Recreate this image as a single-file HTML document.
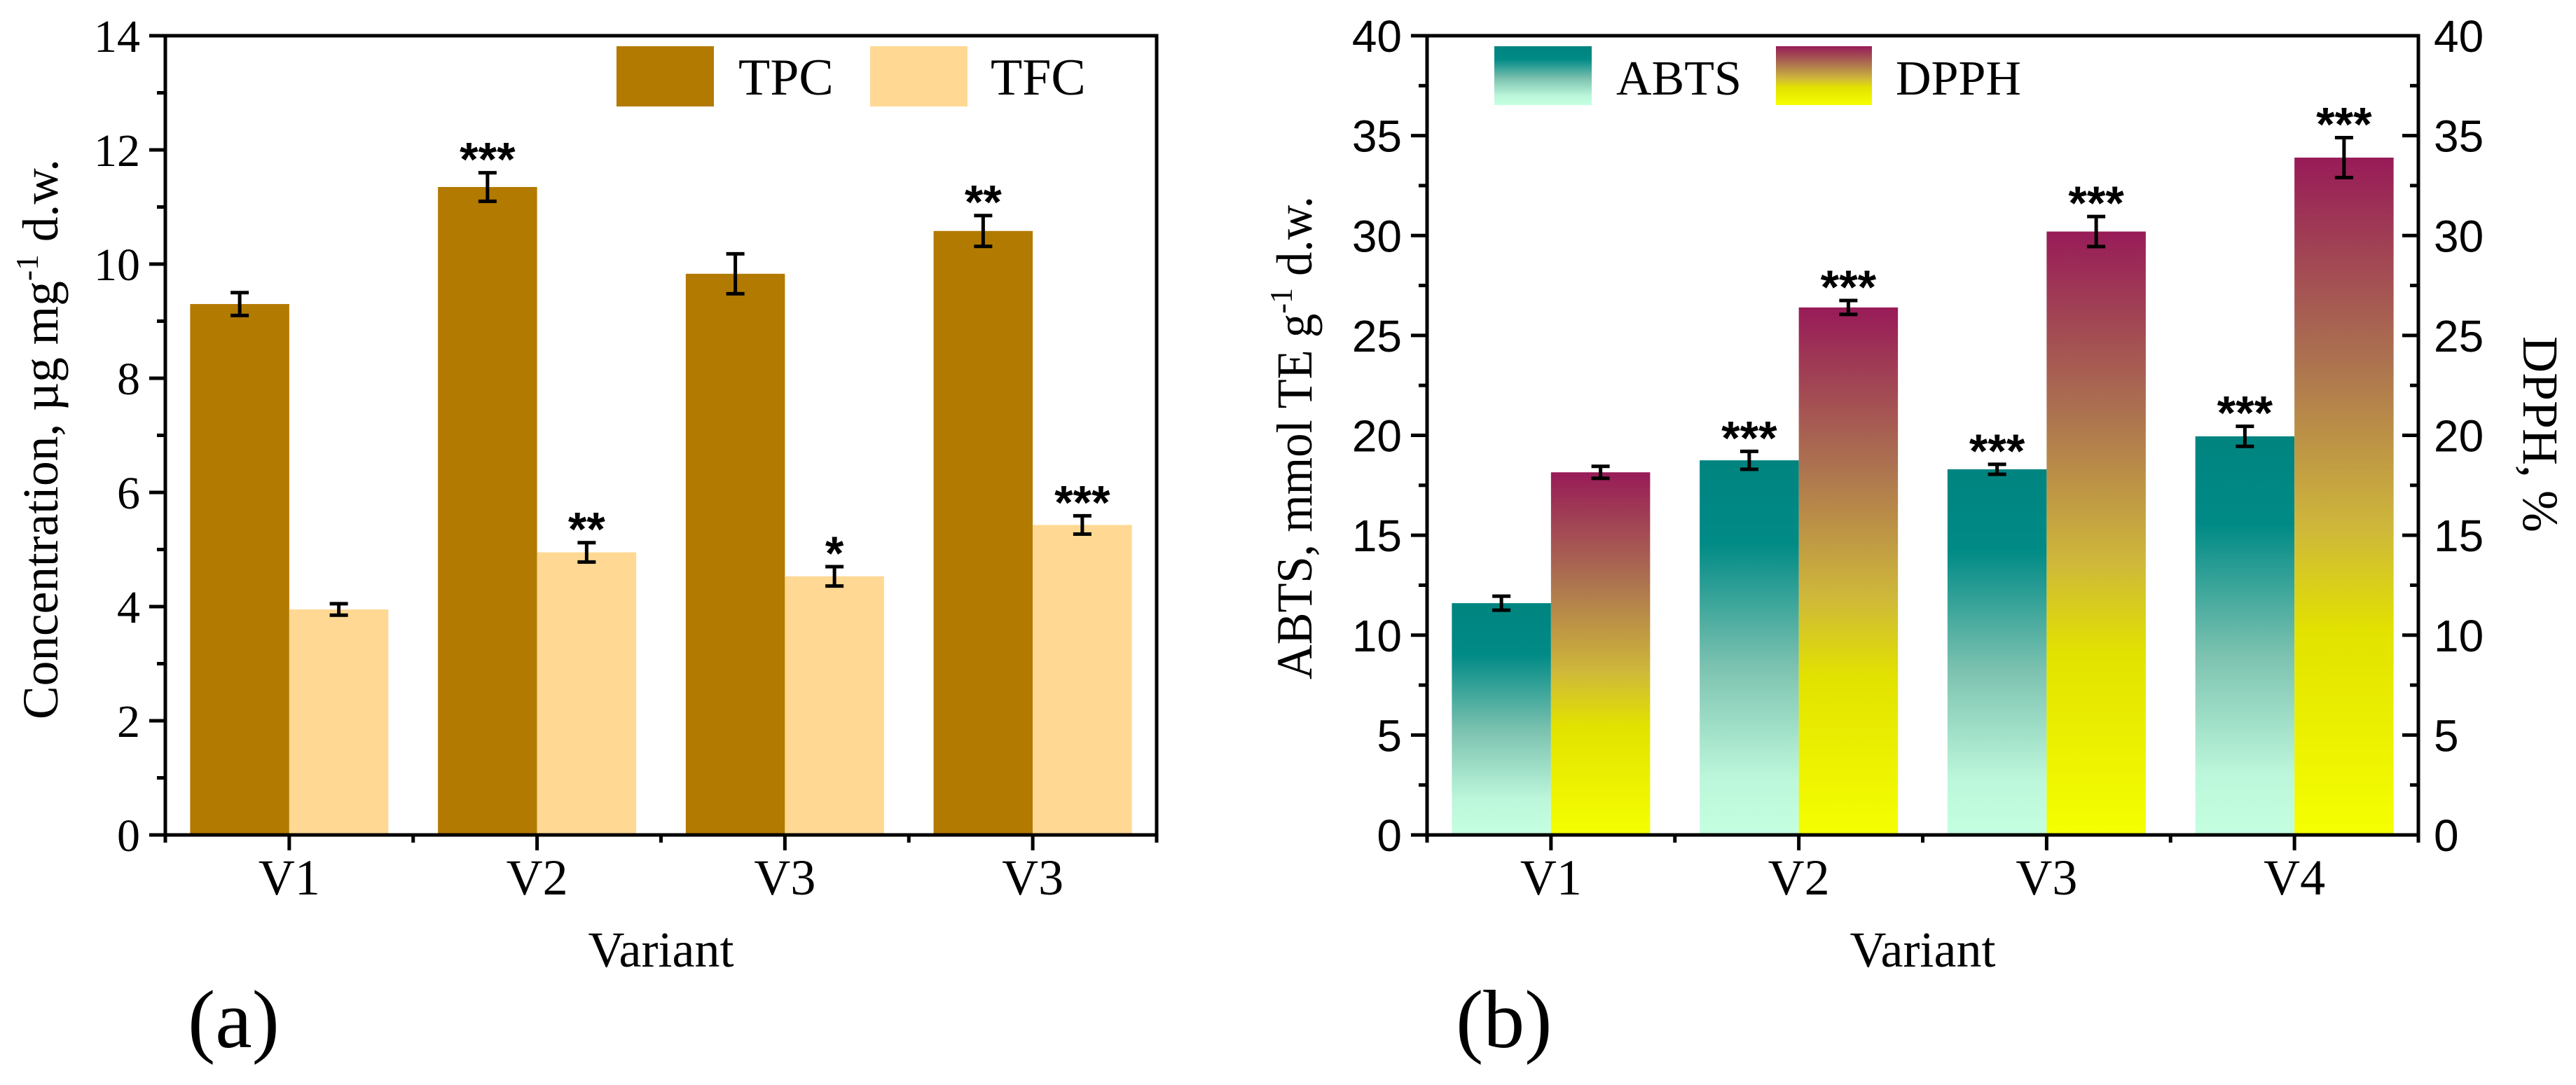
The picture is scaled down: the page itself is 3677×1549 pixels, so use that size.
<!DOCTYPE html>
<html><head><meta charset="utf-8"><style>
html,body{margin:0;padding:0;background:#fff;}
svg{display:block;}
</style></head><body>
<svg id="chart" width="3677" height="1549" viewBox="0 0 3677 1549" xmlns="http://www.w3.org/2000/svg">
<defs>
<linearGradient id="gAbts" x1="0" y1="0" x2="0" y2="1">
<stop offset="0" stop-color="#008480"/><stop offset="0.22" stop-color="#008a86"/><stop offset="0.55" stop-color="#7cc2b0"/><stop offset="0.85" stop-color="#bdf7db"/><stop offset="1" stop-color="#c4ffe0"/>
</linearGradient>
<linearGradient id="gDpph" x1="0" y1="0" x2="0" y2="1">
<stop offset="0" stop-color="#981b58"/><stop offset="0.3" stop-color="#ac7250"/><stop offset="0.55" stop-color="#cfb83a"/><stop offset="0.7" stop-color="#e2e200"/><stop offset="1" stop-color="#f5ff00"/>
</linearGradient>
</defs>
<g id="pa"></g>
<g id="pb"></g>
</svg>
<script>
const catsA = ['V1','V2','V3','V3'];
const tpc = [9.3, 11.35, 9.83, 10.58];
const tpcErr = [0.2, 0.25, 0.35, 0.27];
const tfc = [3.95, 4.95, 4.53, 5.43];
const tfcErr = [0.1, 0.17, 0.17, 0.16];
const tpcStars = ['', '***', '', '**'];
const tfcStars = ['', '**', '*', '***'];
const ticksA = [0,2,4,6,8,10,12,14];

const catsB = ['V1','V2','V3','V4'];
const abts = [11.6, 18.75, 18.3, 19.95];
const abtsErr = [0.35, 0.45, 0.25, 0.5];
const dpph = [18.15, 26.4, 30.2, 33.9];
const dpphErr = [0.3, 0.35, 0.75, 1.0];
const abtsStars = ['', '***', '***', '***'];
const dpphStars = ['', '***', '***', '***'];
const ticksB = [0,5,10,15,20,25,30,35,40];

const NS='http://www.w3.org/2000/svg';
function mk(parent, tag, attrs, text){
  const e=document.createElementNS(NS,tag);
  for(const k in attrs) e.setAttribute(k, attrs[k]);
  if(text!==undefined) e.textContent=text;
  parent.appendChild(e); return e;
}
const SERIF='"Liberation Serif", serif', SANS='"Liberation Sans", sans-serif';
const Y0=1192, Y1=51, AW=1415;

function panel(g, L, ymax, cats, s1, e1, st1, s2, e2, st2, fill1, fill2, ticks, tickFont, tickSize, rightAxis){
  const R=L+AW;
  const y=v=>Y0-(v/ymax)*(Y0-Y1);
  const step=AW/cats.length, bw=step*0.4;
  const xc=i=>L+step*(i+0.5);
  const series=[[s1,e1,st1,fill1,-1,'bar-s1'],[s2,e2,st2,fill2,0,'bar-s2']];
  series.forEach(([vals,errs,stars,fill,off,nm])=>{
    vals.forEach((v,i)=>{
      const x0=xc(i)+off*bw;
      const r=mk(g,'rect',{x:x0,y:y(v),width:bw,height:Y0-y(v),fill:fill});
      
      
      const cx=x0+bw/2, t=y(v+errs[i]), b=y(v-errs[i]);
      const eb=mk(g,'path',{d:`M${cx-13},${t}H${cx+13}M${cx},${t}V${b}M${cx-13},${b}H${cx+13}`,stroke:'#000','stroke-width':5,fill:'none'});
      
      
      if(stars[i]){
        const s=mk(g,'text',{x:cx,y:t+4,'text-anchor':'middle','font-family':SANS,'font-size':68,'font-weight':'bold'},stars[i]);
        
        
      }
    });
  });
  const fr=mk(g,'rect',{x:L,y:Y1,width:AW,height:Y0-Y1,fill:'none',stroke:'#000','stroke-width':5});
  
  
  const dt=ticks[1]-ticks[0];
  ticks.forEach((v,k)=>{
    mk(g,'line',{x1:L-23,x2:L,y1:y(v),y2:y(v),stroke:'#000','stroke-width':5});
    const tl=mk(g,'text',{x:L-36,y:y(v)+23,'text-anchor':'end','font-family':tickFont,'font-size':tickSize},String(v));
    
    
    if(k<ticks.length-1) mk(g,'line',{x1:L-12,x2:L,y1:y(v+dt/2),y2:y(v+dt/2),stroke:'#000','stroke-width':5});
    if(rightAxis){
      mk(g,'line',{x1:R-23,x2:R,y1:y(v),y2:y(v),stroke:'#000','stroke-width':5});
      if(k<ticks.length-1) mk(g,'line',{x1:R-12,x2:R,y1:y(v+dt/2),y2:y(v+dt/2),stroke:'#000','stroke-width':5});
      const tr=mk(g,'text',{x:R+22,y:y(v)+23,'text-anchor':'start','font-family':tickFont,'font-size':tickSize},String(v));
      
      
    }
  });
  cats.forEach((c,i)=>{
    mk(g,'line',{x1:xc(i),x2:xc(i),y1:Y0,y2:Y0+22,stroke:'#000','stroke-width':5});
    mk(g,'line',{x1:L+step*i,x2:L+step*i,y1:Y0,y2:Y0+11,stroke:'#000','stroke-width':5});
    const xl=mk(g,'text',{x:xc(i),y:1277,'text-anchor':'middle','font-family':SERIF,'font-size':72},c);
    
    
  });
  mk(g,'line',{x1:R,x2:R,y1:Y0,y2:Y0+11,stroke:'#000','stroke-width':5});
  const xt=mk(g,'text',{x:L+AW/2,y:1380,'text-anchor':'middle','font-family':SERIF,'font-size':72},'Variant');
  
  
}

const ga=document.getElementById('pa'), gb=document.getElementById('pb');
panel(ga,236,14,catsA,tpc,tpcErr,tpcStars,tfc,tfcErr,tfcStars,'#b27a00','#ffd893',ticksA,SERIF,66,false);
panel(gb,2037,40,catsB,abts,abtsErr,abtsStars,dpph,dpphErr,dpphStars,'url(#gAbts)','url(#gDpph)',ticksB,SANS,64,true);
</script>
<script>
(function(){
const svg=document.getElementById('chart');
svg.insertAdjacentHTML('beforeend',`
<g>
 <rect x="880" y="66" width="139" height="86" fill="#b27a00"/>
 <text x="1054" y="135" font-family="Liberation Serif, serif" font-size="74">TPC</text>
 <rect x="1242" y="66" width="139" height="86" fill="#ffd893"/>
 <text x="1414" y="135" font-family="Liberation Serif, serif" font-size="74">TFC</text>
</g>
<g>
 <rect x="2133" y="66" width="139" height="84" fill="url(#gAbts)"/>
 <text x="2307" y="135" font-family="Liberation Serif, serif" font-size="70">ABTS</text>
 <rect x="2535" y="66" width="137" height="84" fill="url(#gDpph)"/>
 <text x="2706" y="135" font-family="Liberation Serif, serif" font-size="70">DPPH</text>
</g>
<text transform="translate(82,627) rotate(-90)" text-anchor="middle" font-family="Liberation Serif, serif" font-size="72" textLength="800" lengthAdjust="spacingAndGlyphs">Concentration, µg mg<tspan dy="-28" font-size="46">-1</tspan><tspan dy="28"> d.w.</tspan></text>
<text transform="translate(1872,625) rotate(-90)" text-anchor="middle" font-family="Liberation Serif, serif" font-size="72" textLength="690" lengthAdjust="spacingAndGlyphs">ABTS, mmol TE g<tspan dy="-28" font-size="46">-1</tspan><tspan dy="28"> d.w.</tspan></text>
<text transform="translate(3602,620) rotate(90)" text-anchor="middle" font-family="Liberation Serif, serif" font-size="72">DPPH, %</text>
<text x="268" y="1495" font-family="Liberation Serif, serif" font-size="118">(a)</text>
<text x="2078" y="1495" font-family="Liberation Serif, serif" font-size="118">(b)</text>
`);
})();
</script>
</body></html>
